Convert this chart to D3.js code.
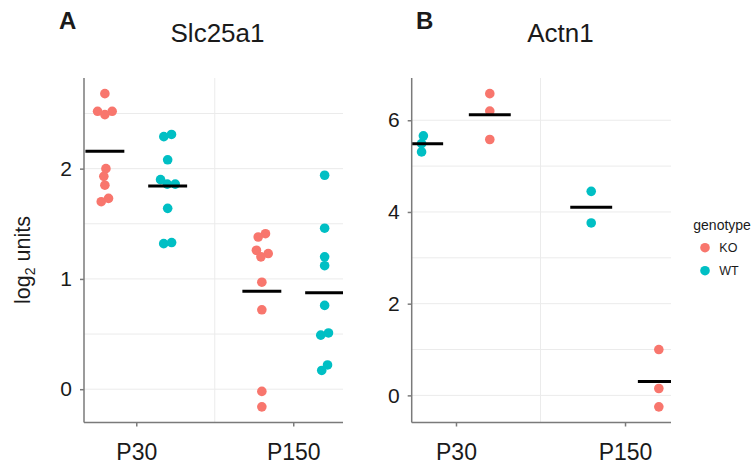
<!DOCTYPE html>
<meta charset="utf-8">
<style>
body { margin: 0; background: #fff; }
text { font-family: "Liberation Sans", Arial, sans-serif; fill: #1a1a1a; }
.grid line { stroke: #ebebeb; stroke-width: 1; }
.axis path, .axis line { stroke: #7a7a7a; stroke-width: 1.5; }
</style>
<svg width="752" height="468"></svg>
<script src="https://d3js.org/d3.v7.min.js"></script>
<script>
// ---- data ----
var genotypes = ["KO", "WT"];
var ages = ["P30", "P150"];
var colors = ["#F8766D", "#00BFC4"];

var slcKO_P30  = [2.68, 2.52, 2.49, 2.52, 2.00, 1.93, 1.85, 1.73, 1.70];
var slcWT_P30  = [2.31, 2.29, 2.08, 1.90, 1.86, 1.86, 1.64, 1.33, 1.32];
var slcKO_P150 = [1.41, 1.38, 1.26, 1.23, 1.20, 0.97, 0.72, -0.02, -0.16];
var slcWT_P150 = [1.94, 1.46, 1.20, 1.12, 0.76, 0.51, 0.49, 0.22, 0.17];

var actnKO_P30  = [6.58, 6.20, 5.58];
var actnWT_P30  = [5.66, 5.49, 5.31];
var actnKO_P150 = [1.00, 0.15, -0.25];
var actnWT_P150 = [4.45, 3.76];

var slcTicks = [0, 1, 2], slcMinor = [0.5, 1.5, 2.5];
var actnTicks = [0, 2, 4, 6], actnMinor = [1, 3, 5];

var svg = d3.select("svg");
var color = d3.scaleOrdinal().domain(genotypes).range(colors);

var panels = [
  { tag: "A", title: "Slc25a1", tagX: 59, titleX: 217.5,
    left: 84, right: 343, top: 78, bottom: 422.5, xdom: [0.667, 2.317],
    order: ["KO", "WT"], ticks: slcTicks, minor: slcMinor,
    groups: { KO: [slcKO_P30, slcKO_P150], WT: [slcWT_P30, slcWT_P150] } },
  { tag: "B", title: "Actn1", tagX: 416, titleX: 560.5,
    left: 411.7, right: 671, top: 78, bottom: 422.5, xdom: [0.738, 2.272],
    order: ["WT", "KO"], ticks: actnTicks, minor: actnMinor,
    groups: { KO: [actnKO_P30, actnKO_P150], WT: [actnWT_P30, actnWT_P150] } }
];

// simple beeswarm: place points (top down) at the smallest offset that does not collide,
// then centre each touching cluster horizontally
function swarm(ys, d) {
  var idx = ys.map(function(v, i) { return i; }).sort(function(a, b) { return ys[b] - ys[a]; });
  var xs = new Array(ys.length), placed = [];
  idx.forEach(function(i) {
    var cands = [0];
    placed.forEach(function(j) {
      var dy = ys[i] - ys[j];
      if (Math.abs(dy) < d) {
        var dx = Math.sqrt(d * d - dy * dy);
        cands.push(xs[j] + dx, xs[j] - dx);
      }
    });
    cands.sort(function(a, b) { return Math.abs(a) - Math.abs(b) || b - a; });
    for (var k = 0; k < cands.length; k++) {
      var ok = placed.every(function(j) {
        var dx = cands[k] - xs[j], dy = ys[i] - ys[j];
        return dx * dx + dy * dy >= d * d - 0.01;
      });
      if (ok) { xs[i] = cands[k]; break; }
    }
    placed.push(i);
  });
  var parent = ys.map(function(v, i) { return i; });
  function find(a) { return parent[a] === a ? a : (parent[a] = find(parent[a])); }
  for (var a = 0; a < ys.length; a++)
    for (var b = a + 1; b < ys.length; b++) {
      var dx = xs[a] - xs[b], dy = ys[a] - ys[b];
      if (Math.sqrt(dx * dx + dy * dy) < d + 0.5) parent[find(a)] = find(b);
    }
  var sums = {};
  xs.forEach(function(x, i) {
    var r = find(i); sums[r] = sums[r] || [0, 0]; sums[r][0] += x; sums[r][1]++;
  });
  return xs.map(function(x, i) { var s = sums[find(i)]; return x - s[0] / s[1]; });
}

panels.forEach(function(p, pi) {
  var all = [];
  genotypes.forEach(function(g) { p.groups[g].forEach(function(arr) { all = all.concat(arr); }); });
  var ext = d3.extent(all), pad = (ext[1] - ext[0]) * 0.05;
  var y = d3.scaleLinear().domain([ext[0] - pad, ext[1] + pad]).range([p.bottom, p.top]);
  var x = d3.scaleLinear().domain(p.xdom).range([p.left, p.right]);

  var g = svg.append("g");

  // grid
  var grid = g.append("g").attr("class", "grid");
  grid.selectAll(".h").data(p.ticks.concat(p.minor)).enter().append("line")
      .attr("x1", p.left).attr("x2", p.right)
      .attr("y1", function(d) { return y(d); }).attr("y2", function(d) { return y(d); });
  grid.append("line")
      .attr("x1", x(1.5)).attr("x2", x(1.5)).attr("y1", p.top).attr("y2", p.bottom);

  // clip
  g.append("clipPath").attr("id", "clip" + pi).append("rect")
      .attr("x", p.left).attr("y", p.top).attr("width", p.right - p.left).attr("height", p.bottom - p.top);
  var plot = g.append("g").attr("clip-path", "url(#clip" + pi + ")");

  p.order.forEach(function(gen, oi) {
    var dodge = oi === 0 ? -0.2 : 0.2;
    p.groups[gen].forEach(function(vals, ai) {
      var cx = x(ai + 1 + dodge);
      var py = vals.map(function(v) { return y(v); });
      var off = swarm(py, 8);
      plot.selectAll(null).data(vals).enter().append("circle")
          .attr("cx", function(d, i) { return cx + off[i]; })
          .attr("cy", function(d) { return y(d); })
          .attr("r", 4.8)
          .attr("fill", color(gen));
      var m = d3.mean(vals);
      plot.append("line")
          .attr("x1", x(ai + 1 + dodge - 0.124)).attr("x2", x(ai + 1 + dodge + 0.124))
          .attr("y1", y(m)).attr("y2", y(m))
          .attr("stroke", "#000").attr("stroke-width", 3);
    });
  });

  // axes
  var ya = g.append("g").attr("class", "axis")
      .attr("transform", "translate(" + p.left + ",0)")
      .call(d3.axisLeft(y).tickValues(p.ticks).tickSize(4).tickSizeOuter(0).tickPadding(8)
            .tickFormat(d3.format("d")));
  ya.select(".domain").attr("d", "M0," + p.top + "V" + p.bottom);
  ya.selectAll("text").style("font-size", "21px").attr("fill", "#1a1a1a");

  var xa = g.append("g").attr("class", "axis")
      .attr("transform", "translate(0," + p.bottom + ")")
      .call(d3.axisBottom(x).tickValues([1, 2]).tickSize(4).tickSizeOuter(0)
            .tickFormat(function(d) { return ages[d - 1]; }));
  xa.select(".domain").attr("d", "M" + p.left + ",0H" + p.right);
  xa.selectAll("text").style("font-size", "23px").attr("fill", "#1a1a1a")
      .attr("y", 37.5).attr("dy", 0);

  // titles
  svg.append("text").attr("x", p.titleX).attr("y", 42).attr("text-anchor", "middle")
      .style("font-size", "26px").text(p.title);
  svg.append("text").attr("x", p.tagX).attr("y", 29.3)
      .style("font-size", "24px").style("font-weight", "bold").text(p.tag);
});

// y title
var yl = svg.append("text")
    .attr("transform", "translate(29.5,260) rotate(-90)")
    .attr("text-anchor", "middle")
    .style("font-size", "21.5px");
yl.append("tspan").text("log");
yl.append("tspan").text("2").style("font-size", "14px").attr("dy", 5);
yl.append("tspan").text(" units").attr("dy", -5);

// legend
var leg = svg.append("g");
leg.append("text").attr("x", 693.3).attr("y", 230).style("font-size", "14px").text("genotype");
var items = leg.selectAll(".item").data(genotypes).enter().append("g")
    .attr("transform", function(d, i) { return "translate(705," + (247.7 + i * 23) + ")"; });
items.append("circle").attr("r", 4.8).attr("fill", function(d) { return color(d); });
items.append("text").attr("x", 14.3).attr("y", 4.6).style("font-size", "12.5px").text(function(d) { return d; });
</script>
